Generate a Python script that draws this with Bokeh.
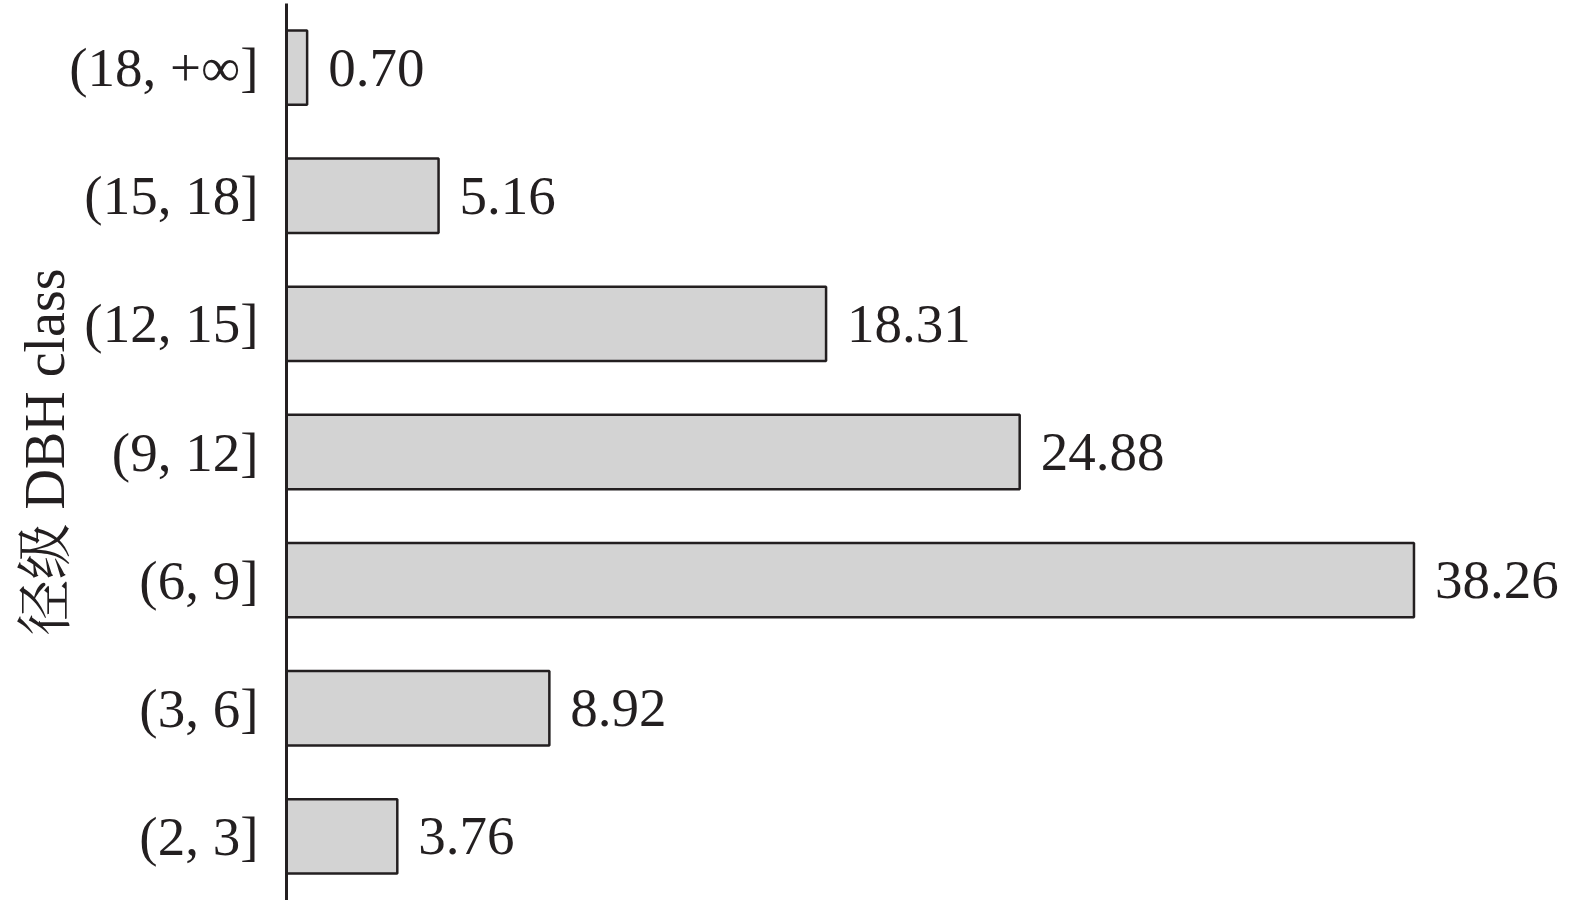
from bokeh.plotting import figure
from bokeh.models import FactorRange, Range1d, ColumnDataSource
from bokeh.core.properties import value
from bokeh.embed import file_html
from bokeh.resources import INLINE

categories = ["(2, 3]", "(3, 6]", "(6, 9]", "(9, 12]", "(12, 15]", "(15, 18]", "(18, +\u221e]"]
values = [3.76, 8.92, 38.26, 24.88, 18.31, 5.16, 0.70]
labels = ["3.76", "8.92", "38.26", "24.88", "18.31", "5.16", "0.70"]

INK = "#231f20"
FONT = "'Liberation Serif', 'Noto Serif CJK SC', 'Noto Sans CJK SC', serif"

src = ColumnDataSource(dict(cat=categories, val=values, lab=labels))

p = figure(
    width=1562, height=900,
    y_range=FactorRange(factors=categories, range_padding=0),
    x_range=Range1d(0, 43.3),
    output_backend="svg", toolbar_location=None,
    min_border_left=286, min_border_top=3, min_border_bottom=0, min_border_right=0,
)
p.hbar(y="cat", right="val", left=0, height=0.58, source=src,
       fill_color="#d3d3d3", line_color=INK, line_width=2.5)
p.text(x="val", y="cat", text="lab", source=src, x_offset=21,
       text_baseline="middle", text_align="left",
       text_font=value(FONT), text_font_size="55px", text_color=INK)

p.xaxis.visible = False
p.xgrid.visible = False
p.ygrid.visible = False
p.outline_line_color = None

ax = p.yaxis[0]
ax.axis_label = "径级 DBH class"
ax.axis_label_text_font = FONT
ax.axis_label_text_font_size = "56px"
ax.axis_label_text_font_style = "normal"
ax.axis_label_text_color = INK
ax.axis_label_standoff = -10
ax.major_label_text_font = FONT
ax.major_label_text_font_size = "55px"
ax.major_label_text_color = INK
ax.major_label_standoff = 22
ax.major_tick_line_color = None
ax.minor_tick_line_color = None
ax.axis_line_color = INK
ax.axis_line_width = 3

open("out.html", "w").write(file_html(p, INLINE))
